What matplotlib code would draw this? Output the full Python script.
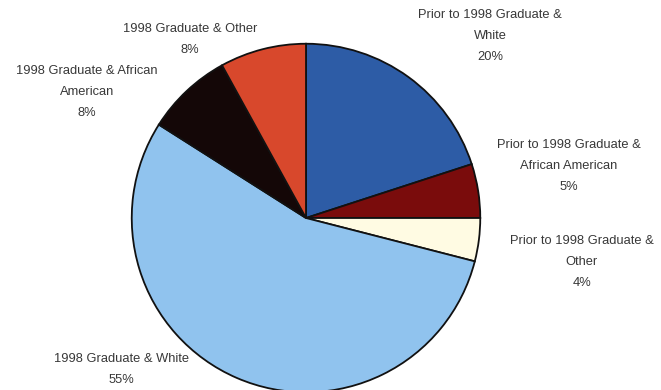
import matplotlib.pyplot as plt

# --------------------------
# DATA
# --------------------------
groups = [
    "Prior to 1998 Graduate &\nWhite",
    "Prior to 1998 Graduate &\nAfrican American",
    "Prior to 1998 Graduate &\nOther",
    "1998 Graduate & White",
    "1998 Graduate & African\nAmerican",
    "1998 Graduate & Other",
]
shares = [20, 5, 4, 55, 8, 8]
colors = ["#2d5ca6", "#7a0c0c", "#fffbe3", "#90c3ee", "#140707", "#d8482c"]

# label centres in pixels (x, y from top of first line), one per slice
label_px = [(490, 15), (569, 145), (582, 241), (121, 359), (87, 71), (190, 29)]

W, H = 661, 390
plt.rcParams["font.family"] = ["Liberation Sans", "DejaVu Sans"]

fig = plt.figure(figsize=(W / 100, H / 100), dpi=100)

# pie axes: circle centred at (306, 218) px, radius 176 px
cx, cy, r = 306, 218, 176
ax = fig.add_axes([(cx - r) / W, (H - cy - r) / H, 2 * r / W, 2 * r / H])
ax.pie(shares, colors=colors, startangle=90, counterclock=False,
       wedgeprops=dict(edgecolor="#111111", linewidth=1.3))
ax.set_xlim(-1.01, 1.01)
ax.set_ylim(-1.01, 1.01)
ax.set_aspect("equal")
ax.axis("off")

# --------------------------
# LABELS
# --------------------------
for name, val, (px, py) in zip(groups, shares, label_px):
    fig.text(px / W, 1 - (py - 6) / H, f"{name}\n{val}%", ha="center", va="top",
             fontsize=9.3, color="#383838", linespacing=2.0)

fig.savefig("out.png", dpi=100)
